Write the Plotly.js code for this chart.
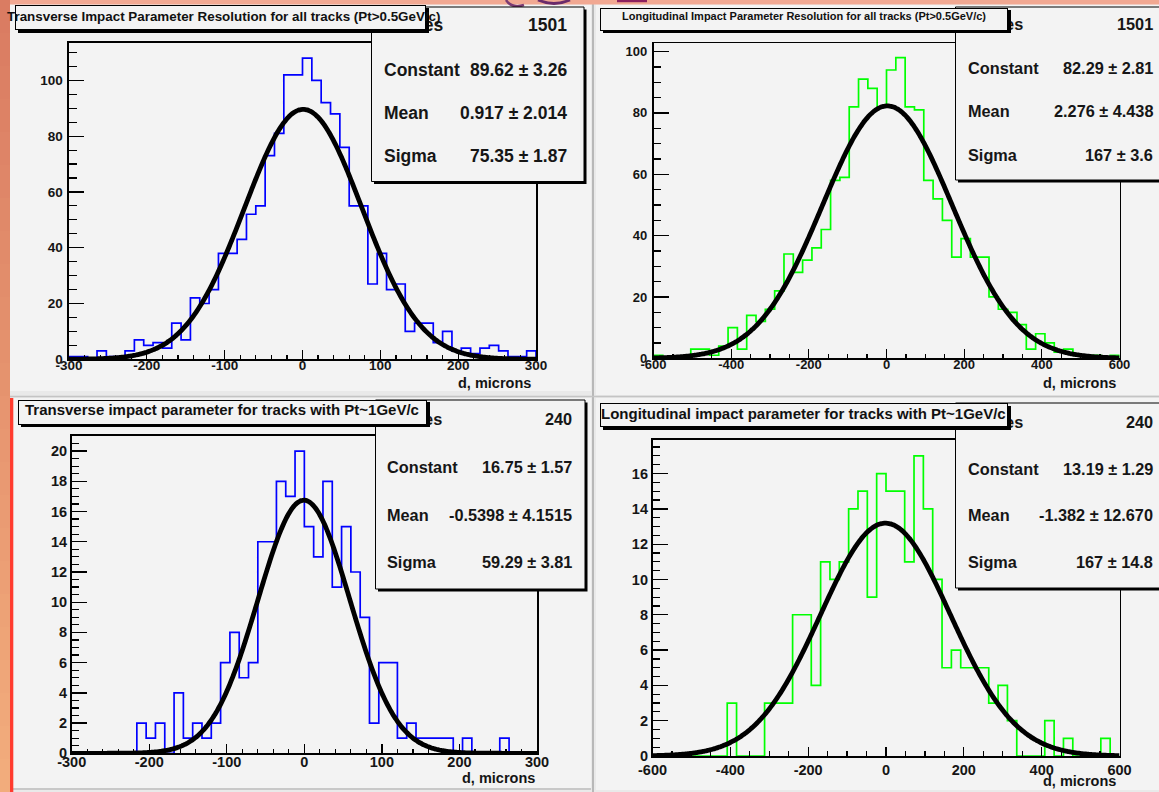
<!DOCTYPE html>
<html><head><meta charset="utf-8">
<script src="https://cdn.plot.ly/plotly-3.0.1.min.js"></script>
<style>html,body{margin:0;padding:0;background:#e9e9e9;} #chart{width:1159px;height:792px;}</style>
</head><body><div id="chart"></div>
<script>
// ---------------- DATA ----------------
const rangeTransverse = [-300, 300];
const binWidthTransverse = 12;
const rangeLongitudinal = [-600, 600];
const binWidthLongitudinal = 24;

// counts per bin, left to right (50 bins each)
const transverseAllCounts = [1,1,0,3,1,1,3,7,5,6,4,13,7,22,20,25,38,38,43,52,55,73,81,102,102,
  108,100,92,88,76,55,55,27,38,25,27,10,13,13,6,10,3,4,2,4,5,3,1,1,3];
const longitudinalAllCounts = [1,0,0,0,3,3,1,4,10,3,14,12,16,22,34,28,32,36,42,58,59,82,91,88,82,
  94,98,82,81,58,52,45,33,39,33,33,20,16,15,11,3,8,5,2,3,1,1,1,0,1];
const transversePt1Counts = [0,0,0,0,0,0,0,2,1,2,0,4,1,2,1,2,6,8,5,6,14,14,18,17,20,
  15,13,18,11,15,12,9,2,6,6,1,2,1,1,1,1,0,1,0,0,0,1,0,0,0];
const longitudinalPt1Counts = [0,0,0,0,0,0,0,0,3,0,0,0,3,3,3,8,8,4,11,10,11,14,15,9,16,
  15,15,11,17,14,10,5,6,5,5,5,3,4,2,0,0,0,2,0,1,0,0,0,1,0];

// Gaussian fit parameters shown in the stats boxes
const fitConstant = [89.62, 82.29, 16.75, 13.19];
const fitMean = [0.917, 2.276, -0.5398, -1.382];
const fitSigma = [75.35, 167, 59.29, 167];

const panelTitles = [
  'Transverse Impact Parameter Resolution for all tracks (Pt>0.5GeV/c)',
  'Longitudinal Impact Parameter Resolution for all tracks (Pt>0.5GeV/c)',
  'Transverse impact parameter for tracks with Pt~1GeV/c',
  'Longitudinal impact parameter for tracks with Pt~1GeV/c'
];
const statsLabels = ['Entries', 'Constant', 'Mean', 'Sigma'];
const statsEntries = ['1501', '1501', '240', '240'];
const statsConstant = ['89.62 \u00b1 3.26', '82.29 \u00b1 2.81', '16.75 \u00b1 1.57', '13.19 \u00b1 1.29'];
const statsMean = ['0.917 \u00b1 2.014', '2.276 \u00b1 4.438', '-0.5398 \u00b1 4.1515', '-1.382 \u00b1 12.670'];
const statsSigma = ['75.35 \u00b1 1.87', '167 \u00b1 3.6', '59.29 \u00b1 3.81', '167 \u00b1 14.8'];

const xTickValsTransverse = [-300, -200, -100, 0, 100, 200, 300];
const xTickTextTransverse = ['-300', '-200', '-100', '0', '100', '200', '300'];
const xTickValsLongitudinal = [-600, -400, -200, 0, 200, 400, 600];
const xTickTextLongitudinal = ['-600', '-400', '-200', '0', '200', '400', '600'];
const yTickValsAll = [0, 20, 40, 60, 80, 100];
const yTickValsPt1T = [0, 2, 4, 6, 8, 10, 12, 14, 16, 18, 20];
const yTickValsPt1L = [0, 2, 4, 6, 8, 10, 12, 14, 16];
const xAxisTitle = 'd, microns';

// ---------------- LAYOUT HELPERS ----------------
const W = 1159, H = 792;
const PX = v => v / W;
const PY = v => 1 - v / H;
const FONT = 'Liberation Sans, Arial, Helvetica, sans-serif';

const panels = [
  {counts: transverseAllCounts, xr: rangeTransverse, bw: binWidthTransverse, color: '#0000ff',
   frame: [69, 43, 536, 359.3], yTop: 113.4, yMinor: 5, xMinor: 20, tickFont: 13.5, lblStand: 2, xStand: -7,
   xTicks: [xTickValsTransverse, xTickTextTransverse], yTicks: yTickValsAll,
   stats: {box: [371.5, 7, 584, 181.5], lx: 382, vx: 569, rows: [25, 70, 112.5, 155.5], fs: 17.5},
   tbox: [15, 5, 425.5, 30], tc: [224, 16], tfs: 13.4, atitle: [533, 383]},
  {counts: longitudinalAllCounts, xr: rangeLongitudinal, bw: binWidthLongitudinal, color: '#00ff00',
   frame: [653.5, 43.3, 1119.5, 358.3], yTop: 102.7, yMinor: 5, xMinor: 50, tickFont: 13, lblStand: 2, xStand: -7,
   xTicks: [xTickValsLongitudinal, xTickTextLongitudinal], yTicks: yTickValsAll,
   stats: {box: [955.5, 7, 1165, 180], lx: 966, vx: 1155, rows: [24, 67.7, 111, 155], fs: 16.3},
   tbox: [600, 7.5, 1008, 30.5], tc: [803.5, 16], tfs: 11.0, atitle: [1118, 383.3]},
  {counts: transversePt1Counts, xr: rangeTransverse, bw: binWidthTransverse, color: '#0000ff',
   frame: [71.7, 436, 537, 753.3], yTop: 21, yMinor: 0.5, xMinor: 20, tickFont: 14.5, lblStand: 0, xStand: -5,
   xTicks: [xTickValsTransverse, xTickTextTransverse], yTicks: yTickValsPt1T,
   stats: {box: [375.5, 400, 585, 589], lx: 385, vx: 574, rows: [418.5, 467, 514.5, 562], fs: 16.3},
   tbox: [18, 399.5, 427, 424], tc: [221.5, 410], tfs: 15, atitle: [536.7, 777.5]},
  {counts: longitudinalPt1Counts, xr: rangeLongitudinal, bw: binWidthLongitudinal, color: '#00ff00',
   frame: [652.5, 440, 1119.5, 756], yTop: 17.9, yMinor: 0.5, xMinor: 50, tickFont: 14.5, lblStand: 0, xStand: -7.5,
   xTicks: [xTickValsLongitudinal, xTickTextLongitudinal], yTicks: yTickValsPt1L,
   stats: {box: [955.5, 403, 1165, 588], lx: 966, vx: 1155, rows: [421.5, 469, 514.5, 562], fs: 16.3},
   tbox: [600, 403, 1008, 427], tc: [803.5, 413.5], tfs: 15, atitle: [1118, 780.5]}
];

const traces = [];
const layout = {
  width: W, height: H, autosize: false,
  margin: {l: 0, r: 0, t: 0, b: 0, pad: 0},
  paper_bgcolor: '#e9e9e9', plot_bgcolor: '#f3f3f3',
  showlegend: false, hovermode: false,
  shapes: [], annotations: []
};

// ---- background decoration shapes ----
const bg = layout.shapes;
function rect(x0, y0, x1, y1, fill, layer) {
  bg.push({type: 'rect', xref: 'paper', yref: 'paper', x0: PX(x0), x1: PX(x1), y0: PY(y1), y1: PY(y0),
    fillcolor: fill, line: {width: 0}, layer: layer || 'below'});
}
function line(x0, y0, x1, y1, color, w) {
  bg.push({type: 'line', xref: 'paper', yref: 'paper', x0: PX(x0), x1: PX(x1), y0: PY(y0), y1: PY(y1),
    line: {color: color, width: w}, layer: 'below'});
}
// panel canvases
rect(10, 4.5, 591, 391, '#f3f3f3');
rect(596, 4.5, 1159, 395, '#f3f3f3');
rect(13, 398, 591, 788, '#f3f3f3');
rect(596, 398, 1159, 790, '#f3f3f3');
// separators
line(593, 0, 593, 792, '#b8b8b8', 2);
line(10, 396.5, 1159, 396.5, '#c4c4c4', 1.5);
line(10, 789, 591, 789, '#bdbdbd', 1.5);
// slide background strips (salmon)
rect(0, 0, 1159, 4.5, 'rgb(241,168,146)');
const nb = 24;
for (let i = 0; i < nb; i++) {
  const t = i / (nb - 1);
  const r = Math.round(218 + (242 - 218) * t), g = Math.round(124 + (172 - 124) * t), b = Math.round(98 + (124 - 98) * t);
  rect(0, i * H / nb, 10, (i + 1) * H / nb + 1, `rgb(${r},${g},${b})`);
}
rect(10, 398, 13.3, 792, '#ff3b2e');
rect(617, 0, 647, 2.2, '#8c2060');
bg.push({type: 'path', xref: 'paper', yref: 'paper', layer: 'below',
  path: `M ${PX(538)} ${PY(0)} Q ${PX(554)} ${PY(7)} ${PX(570)} ${PY(0)}`, line: {color: '#6b2a6a', width: 3}});
bg.push({type: 'path', xref: 'paper', yref: 'paper', layer: 'below',
  path: `M ${PX(506)} ${PY(0)} Q ${PX(512)} ${PY(9)} ${PX(524)} ${PY(5)}`, line: {color: '#7a3a72', width: 2.5}});

// ---- panels ----
panels.forEach((p, k) => {
  const n = k === 0 ? '' : String(k + 1);
  const xa = 'x' + n, ya = 'y' + n;
  const [fx0, fy0, fx1, fy1] = p.frame;
  const tickFont = {family: FONT, size: p.tickFont, color: '#151515', weight: 'bold'};
  layout['xaxis' + n] = {
    domain: [PX(fx0), PX(fx1)], range: p.xr, anchor: ya, fixedrange: true,
    showgrid: false, zeroline: false, showline: true, mirror: true, linecolor: '#000', linewidth: 1.6,
    ticks: 'inside', ticklen: 9.5, tickwidth: 1.3, tickcolor: '#000',
    tickmode: 'array', tickvals: p.xTicks[0], ticktext: p.xTicks[1], tickfont: tickFont,
    ticklabelstandoff: p.xStand,
    minor: {ticks: 'inside', ticklen: 4.8, tickwidth: 1.2, tickcolor: '#000', dtick: p.xMinor, tick0: 0, showgrid: false}
  };
  layout['yaxis' + n] = {
    domain: [PY(fy1), PY(fy0)], range: [0, p.yTop], anchor: xa, fixedrange: true,
    showgrid: false, zeroline: false, showline: true, mirror: true, linecolor: '#000', linewidth: 1.6,
    ticks: 'inside', ticklen: 15, tickwidth: 1.3, tickcolor: '#000',
    tickmode: 'array', tickvals: p.yTicks, tickfont: tickFont, ticklabelstandoff: p.lblStand,
    minor: {ticks: 'inside', ticklen: 7.7, tickwidth: 1.2, tickcolor: '#000', dtick: p.yMinor, tick0: 0, showgrid: false}
  };
  // histogram outline built from the bin counts
  const hx = [p.xr[0]], hy = [0];
  p.counts.forEach((c, i) => {
    const lo = p.xr[0] + i * p.bw, hi = lo + p.bw;
    hx.push(lo, hi); hy.push(c, c);
  });
  hx.push(p.xr[1]); hy.push(0);
  traces.push({type: 'scatter', mode: 'lines', x: hx, y: hy, xaxis: xa, yaxis: ya,
    line: {color: p.color, width: 1.7, shape: 'linear'}});
  // fitted gaussian from stats-box parameters
  const fx = [], fy = [];
  const N = 300;
  for (let i = 0; i <= N; i++) {
    const x = p.xr[0] + (p.xr[1] - p.xr[0]) * i / N;
    fx.push(x);
    fy.push(fitConstant[k] * Math.exp(-0.5 * Math.pow((x - fitMean[k]) / fitSigma[k], 2)));
  }
  traces.push({type: 'scatter', mode: 'lines', x: fx, y: fy, xaxis: xa, yaxis: ya,
    line: {color: '#000', width: 4.8, shape: 'spline'}});

  // stats box (shadow + box), drawn above the frame
  const s = p.stats;
  rect(s.box[0] + 2.5, s.box[1] + 2.5, s.box[2] + 2.5, s.box[3] + 2.5, '#000', 'above');
  bg.push({type: 'rect', xref: 'paper', yref: 'paper', layer: 'above',
    x0: PX(s.box[0]), x1: PX(s.box[2]), y0: PY(s.box[3]), y1: PY(s.box[1]),
    fillcolor: '#f3f3f3', line: {color: '#000', width: 1}});
  const vals = [statsEntries[k], statsConstant[k], statsMean[k], statsSigma[k]];
  const sFont = {family: FONT, size: s.fs, color: '#161616', weight: 'bold'};
  statsLabels.forEach((lab, r) => {
    layout.annotations.push({xref: 'paper', yref: 'paper', x: PX(s.lx), y: PY(s.rows[r]),
      xanchor: 'left', yanchor: 'middle', text: lab, showarrow: false, font: sFont});
    layout.annotations.push({xref: 'paper', yref: 'paper', x: PX(s.vx), y: PY(s.rows[r]),
      xanchor: 'right', yanchor: 'middle', text: vals[r], showarrow: false, font: sFont});
  });
  // axis title
  layout.annotations.push({xref: 'paper', yref: 'paper', x: PX(p.atitle[0]), y: PY(p.atitle[1]),
    xanchor: 'right', yanchor: 'middle', text: xAxisTitle, showarrow: false,
    font: {family: FONT, size: 14.5, color: '#151515', weight: 'bold'}});
});

// title boxes (drawn after stats text so they cover it), then title texts
panels.forEach((p, k) => {
  const [bx0, by0, bx1, by1] = p.tbox;
  const bw = bx1 - bx0 - 2, bh = by1 - by0 - 2;
  layout.annotations.push({xref: 'paper', yref: 'paper', x: PX(bx0 + 2.5), y: PY(by0 + 2.5),
    xanchor: 'left', yanchor: 'top', text: ' ', width: bw, height: bh, showarrow: false,
    bgcolor: '#000', bordercolor: '#000', borderwidth: 1, borderpad: 0});
  layout.annotations.push({xref: 'paper', yref: 'paper', x: PX(bx0), y: PY(by0),
    xanchor: 'left', yanchor: 'top', text: ' ', width: bw, height: bh, showarrow: false,
    bgcolor: '#f3f3f3', bordercolor: '#000', borderwidth: 1, borderpad: 0});
});
panels.forEach((p, k) => {
  layout.annotations.push({xref: 'paper', yref: 'paper', x: PX(p.tc[0]), y: PY(p.tc[1]),
    xanchor: 'center', yanchor: 'middle', text: panelTitles[k], showarrow: false,
    font: {family: FONT, size: p.tfs, color: '#111', weight: 'bold'}});
});

Plotly.newPlot('chart', traces, layout, {staticPlot: true, displayModeBar: false});
</script>
</body></html>
